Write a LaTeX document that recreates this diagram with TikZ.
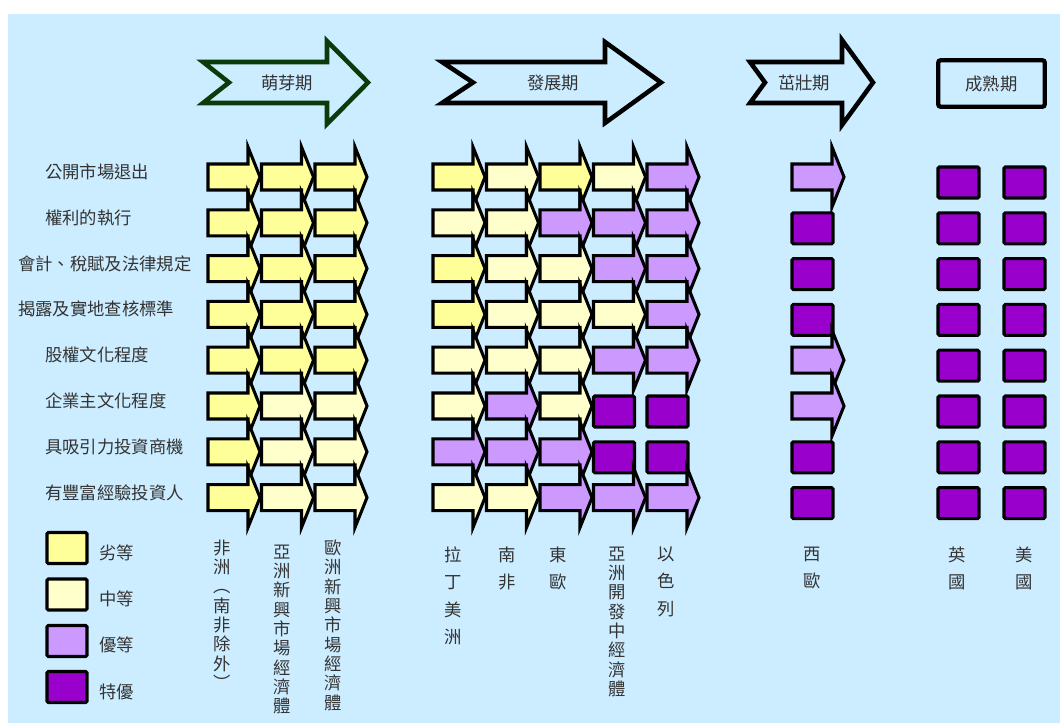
\documentclass[tikz,border=0pt]{standalone}
\usepackage{fontspec}
\setmainfont{Noto Sans CJK TC}
\usepackage{tikz}
\usetikzlibrary{positioning}
\definecolor{chartSky}{HTML}{CCECFF}
\definecolor{gradeY}{HTML}{FFFF99}
\definecolor{gradeL}{HTML}{FFFFCC}
\definecolor{gradeP}{HTML}{CC99FF}
\definecolor{gradeS}{HTML}{9900CC}
\definecolor{sproutGreen}{HTML}{0B3B0B}
\tikzset{
  grade arrow/.style={draw=black,line width=2.3pt},
  grade box/.style={draw=black,line width=2.3pt,fill=gradeS,rounded corners=1pt},
  key box/.style={grade box,minimum width=30pt,minimum height=23.25pt,inner sep=0pt},
  stage arrow/.style={draw=black,line width=3.4pt},
  stage text/.style={inner sep=0pt,font=\fontsize{13}{15}\selectfont,text=black!80},
  stage box/.style={stage text,draw=black,line width=3.2pt,rounded corners=2pt,
    minimum width=80pt,minimum height=35pt},
  row label/.style={anchor=west,inner sep=0pt,font=\fontsize{13}{15}\selectfont,text=black!80},
  col label/.style={anchor=north,inner sep=0pt,align=center,font=\fontsize{13}{14.5}\selectfont,text=black!80},
  wide label/.style={col label,font=\fontsize{13}{20.5}\selectfont}
}
% one cell of the grid: S gives a square, Y/L/P an arrow in that grade
\newcommand{\gradecell}[3]{%
  \if#3S
    \draw[grade box,shift={(#1,#2)}] (0,-10) rectangle (41,21);
  \else
    \draw[grade arrow,fill=grade#3,shift={(#1,#2)}] (0,-13) -- (40,-13) -- (40,-30)
      -- (52,0) -- (40,30) -- (40,13) -- (0,13) -- cycle;
  \fi}

\begin{document}
\begin{tikzpicture}[x=0.75pt,y=-0.75pt]
\useasboundingbox (0,0) rectangle (1060,727);
\fill[chartSky] (8,14) rectangle (1060,723);

% stage headers
\draw[stage arrow,draw=sproutGreen] (203,62) -- (327,62) -- (327,41) -- (368,82.5)
  -- (327,124) -- (327,103) -- (203,103) -- (229,82.5) -- cycle;
\draw[stage arrow] (442,62) -- (605,62) -- (605,42) -- (661,82.5)
  -- (605,123) -- (605,103) -- (442,103) -- (473,82.5) -- cycle;
\draw[stage arrow] (750,62) -- (842,62) -- (842,40) -- (873,82.5)
  -- (842,125) -- (842,103) -- (750,103) -- (765,82.5) -- cycle;
\node[stage text] (sprout) at (287,82.5) {萌芽期};
\node[stage text] (growth) at (553,82.5) {發展期};
\node[stage text] (expand) at (804,82.5) {茁壯期};
\node[stage box] (mature) at (991.5,83.5) {成熟期};

% criteria
\node[row label] (crit1) at (45,172) {公開市場退出};
\node[row label] (crit2) at (45,217.8) {權利的執行};
\node[row label] (crit3) at (18,263.6) {會計、稅賦及法律規定};
\node[row label] (crit4) at (18,309.4) {揭露及實地查核標準};
\node[row label] (crit5) at (45,355) {股權文化程度};
\node[row label] (crit6) at (45,401) {企業主文化程度};
\node[row label] (crit7) at (45,446.8) {具吸引力投資商機};
\node[row label] (crit8) at (45,492.6) {有豐富經驗投資人};

% grades per row
\foreach \rowcells [count=\rw from 0] in {{Y,Y,Y},{Y,Y,Y},{Y,Y,Y},{Y,Y,Y},
    {Y,Y,Y},{Y,L,L},{Y,L,L},{Y,L,L}}
  \foreach \g [count=\col from 0] in \rowcells
    \gradecell{208+53.5*\col}{177+45.8*\rw}{\g};
\foreach \rowcells [count=\rw from 0] in {{Y,L,Y,L,P},{L,L,P,P,P},{Y,L,L,P,P},
    {Y,L,L,L,P},{L,L,L,P,P},{L,P,L,S,S},{P,P,P,S,S},{L,L,P,P,P}}
  \foreach \g [count=\col from 0] in \rowcells
    \gradecell{433+53.5*\col}{177+45.8*\rw}{\g};
\foreach \g [count=\rw from 0] in {P,S,S,S,P,P,S,S}
  \gradecell{792}{177+45.8*\rw}{\g};
\foreach \rw in {0,...,7}
  \foreach \x in {938,1004}
    \gradecell{\x}{177+45.8*\rw}{S};

% legend
\node[key box,fill=gradeY] (keyLow) at (67,548) {};
\node[key box,fill=gradeL] (keyMid) at (67,594.5) {};
\node[key box,fill=gradeP] (keyGood) at (67,641) {};
\node[key box,fill=gradeS] (keyBest) at (67,687) {};
\node[row label,right=8pt of keyLow,yshift=-3.75pt] (lowText) {劣等};
\node[row label,right=8pt of keyMid,yshift=-3pt] (midText) {中等};
\node[row label,right=8pt of keyGood,yshift=-3pt] (goodText) {優等};
\node[row label,right=8pt of keyBest,yshift=-3.75pt] (bestText) {特優};

% regions
\node[col label] (africa) at (222,539.5) {非\\洲\\︵\\南\\非\\除\\外\\︶};
\node[col label] (asiaEm) at (282,544.5) {亞\\洲\\新\\興\\市\\場\\經\\濟\\體};
\node[col label] (euroEm) at (333,539.5) {歐\\洲\\新\\興\\市\\場\\經\\濟\\體};
\node[wide label] (latam) at (453,546.5) {拉\\丁\\美\\洲};
\node[wide label] (safrica) at (507,546.5) {南\\非};
\node[wide label] (easteu) at (558,546.5) {東\\歐};
\node[col label] (asiaDev) at (617,546.5) {亞\\洲\\開\\發\\中\\經\\濟\\體};
\node[wide label] (israel) at (666,546.5) {以\\色\\列};
\node[wide label] (westeu) at (812,546.5) {西\\歐};
\node[wide label] (uk) at (957,546.5) {英\\國};
\node[wide label] (usa) at (1024,546.5) {美\\國};
\end{tikzpicture}
\end{document}
